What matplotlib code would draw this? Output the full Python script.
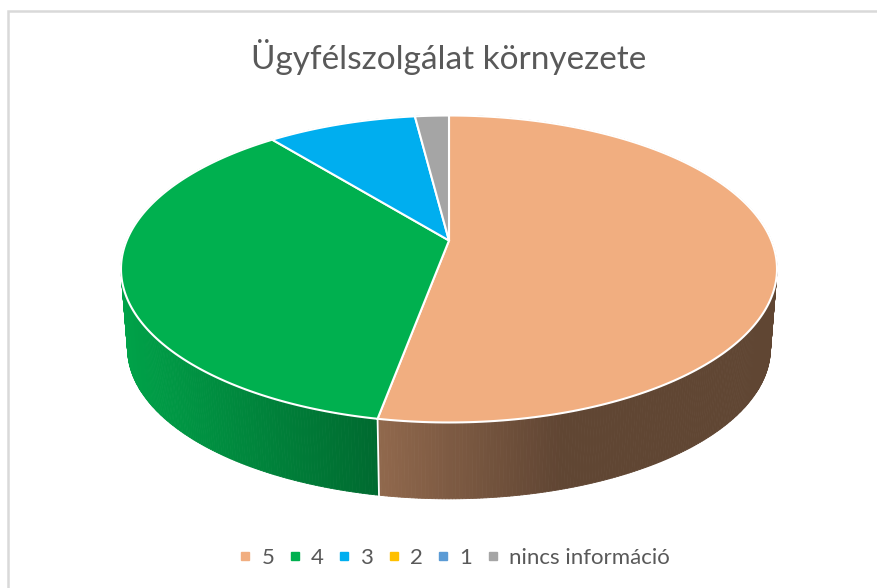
import numpy as np
import matplotlib
matplotlib.use("Agg")
import matplotlib.pyplot as plt
from matplotlib.collections import PolyCollection
from matplotlib.lines import Line2D
from matplotlib.patches import Polygon

# ---- data ----
CATEGORIES = ['5', '4', '3', '2', '1', 'nincs információ']
VALUES = [52.9, 36.3, 8.8, 0, 0, 2.0]
COLORS = ['#F1AE80', '#00B04F', '#00AEEF', '#FFC000', '#5B9BD5', '#A5A5A5']
TITLE = 'Ügyfélszolgálat környezete'

# ---- projection of the tilted pie, in pixels of the picture ----
CX, CY = 449, 240.5
A, B, K = 322.3, 148.2, 0.1856
WALL_DY, WALL_SCALE = 80.0, 0.98
SHADE_X = [121, 378, 560, 777]
SHADE = [0.92, 0.60, 0.40, 0.40]

plt.rcParams['font.family'] = ['Lato', 'DejaVu Sans']


def project(theta, r=1.0, dy=0.0, scale=1.0):
    # theta in degrees, clockwise from the top of the pie
    t = np.radians(theta)
    u, v = r * np.sin(t), r * np.cos(t)
    w = 1 + K * v
    return CX + scale * A * u / w, CY + dy - scale * B * v / w


def shaded(color, x):
    rgb = np.array(matplotlib.colors.to_rgb(color))
    return tuple(rgb * np.interp(x, SHADE_X, SHADE))


fig = plt.figure(figsize=(8.77, 5.88), dpi=100)
ax = fig.add_axes([0, 0, 1, 1])
ax.set_xlim(0, 877)
ax.set_ylim(588, 0)
ax.axis('off')

# chart frame, only top and left show in the crop
ax.plot([8, 8, 877], [588, 11, 11], color='#D9D9D9', lw=1.8, solid_joinstyle='miter')

edges = 360 * np.cumsum([0] + VALUES) / sum(VALUES)

# side wall first, the top covers whatever is behind it
for start, end, color in zip(edges[:-1], edges[1:], COLORS):
    if end <= start:
        continue
    th = np.arange(start, end + 0.5, 0.5)
    th[-1] = end
    x1, y1 = project(th)
    x2, y2 = project(th, dy=WALL_DY, scale=WALL_SCALE)
    quads, cols = [], []
    for i in range(len(th) - 1):
        quads.append([(x1[i], y1[i]), (x1[i + 1], y1[i + 1]), (x2[i + 1], y2[i + 1]), (x2[i], y2[i])])
        cols.append(shaded(color, (x1[i] + x1[i + 1]) / 2))
    ax.add_collection(PolyCollection(quads, facecolors=cols, edgecolors=cols, linewidths=0.6, zorder=2))

# seams between wall pieces
for e in edges[:-1]:
    x1, y1 = project(e)
    x2, y2 = project(e, dy=WALL_DY, scale=WALL_SCALE)
    ax.plot([x1, x2], [y1, y2], color='white', lw=1.3, zorder=3)

# top of the pie
for start, end, color in zip(edges[:-1], edges[1:], COLORS):
    if end <= start:
        continue
    th = np.linspace(start, end, 200)
    x, y = project(th)
    pts = np.column_stack([np.r_[CX, x], np.r_[CY, y]])
    ax.add_patch(Polygon(pts, closed=True, facecolor=color, edgecolor='white', lw=1.5, zorder=4))

ax.text(449, 57, TITLE, ha='center', va='center', fontsize=24.05, color='#595959')

handles = [Line2D([], [], ls='none', marker='s', ms=6, color=c) for c in COLORS]
ax.legend(handles, CATEGORIES, loc='center', bbox_to_anchor=(454.5 / 877, 1 - 558 / 588), ncol=6,
          frameon=False, fontsize=16, labelcolor='#595959', handlelength=0.55, handletextpad=0.45,
          columnspacing=0.65, borderpad=0)

fig.savefig('out.png', dpi=100)
